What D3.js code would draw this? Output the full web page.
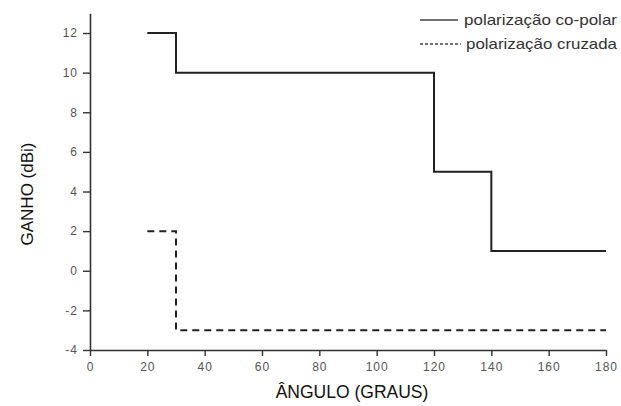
<!DOCTYPE html>
<html>
<head>
<meta charset="utf-8">
<script src="https://cdn.jsdelivr.net/npm/d3@7"></script>
<style>
  body { margin: 0; background: #fff; }
  svg { display: block; font-family: "Liberation Sans", Arial, sans-serif; }
</style>
</head>
<body>
<div id="chart"></div>
<script>
(function () {
  "use strict";

  const WIDTH = 621;
  const HEIGHT = 406;

  /* ---- data ---- */
  const coAngle = [20, 30, 120, 140, 180];
  const coGain = [12, 10, 5, 1, 1];
  const crossAngle = [20, 30, 180];
  const crossGain = [2, -3, -3];
  const xTicks = [0, 20, 40, 60, 80, 100, 120, 140, 160, 180];
  const yTicks = [-4, -2, 0, 2, 4, 6, 8, 10, 12];
  const seriesNames = ["polarização co-polar", "polarização cruzada"];

  const LINE_COLOR = "#222";
  const AXIS_COLOR = "#333";
  const TICK_TEXT = "#555";

  var svg = d3.select("#chart").append("svg")
    .attr("width", WIDTH).attr("height", HEIGHT);

  var x = d3.scaleLinear().domain([0, 180]).range([90, 606]);
  var y = d3.scaleLinear().domain([-4, 13]).range([350, 13.2]);

  // plain hyphen for negatives, like the original
  var fmt = function (d) { return String(d); };

  /* ---- axes ---- */
  var gx = svg.append("g").attr("transform", "translate(0," + y(-4) + ")");
  gx.call(d3.axisBottom(x).tickValues(d3.range(10, 180, 20)).tickSize(3).tickFormat(""));
  gx.call(d3.axisBottom(x).tickValues(xTicks).tickSize(6).tickSizeOuter(0).tickPadding(6).tickFormat(fmt));

  var gy = svg.append("g").attr("transform", "translate(" + x(0) + ",0)");
  gy.call(d3.axisLeft(y).tickValues(d3.range(-3, 13, 2)).tickSize(4).tickFormat(""));
  gy.call(d3.axisLeft(y).tickValues(yTicks).tickSize(7).tickSizeOuter(0).tickPadding(5).tickFormat(fmt));

  svg.selectAll(".domain").attr("stroke", AXIS_COLOR).attr("stroke-width", 1.6);
  svg.selectAll(".tick line").attr("stroke", AXIS_COLOR).attr("stroke-width", 1.4);
  svg.selectAll(".tick text")
    .attr("fill", TICK_TEXT)
    .style("font-size", "12px")
    .style("letter-spacing", "1px");

  /* ---- axis titles ---- */
  svg.append("text")
    .attr("x", 352).attr("y", 398)
    .attr("text-anchor", "middle")
    .attr("fill", "#111")
    .style("font-size", "17.5px")
    .text("ÂNGULO (GRAUS)");

  svg.append("text")
    .attr("transform", "translate(33,194) rotate(-90)")
    .attr("text-anchor", "middle")
    .attr("fill", "#111")
    .style("font-size", "17px")
    .text("GANHO (dBi)");

  /* ---- series ---- */
  var line = d3.line()
    .x(function (d) { return x(d[0]); })
    .y(function (d) { return y(d[1]); })
    .curve(d3.curveStepAfter);

  svg.append("path")
    .datum(d3.zip(coAngle, coGain))
    .attr("d", line)
    .attr("fill", "none")
    .attr("stroke", LINE_COLOR)
    .attr("stroke-width", 2);

  svg.append("path")
    .datum(d3.zip(crossAngle, crossGain))
    .attr("d", line)
    .attr("fill", "none")
    .attr("stroke", LINE_COLOR)
    .attr("stroke-width", 2)
    .attr("stroke-dasharray", "7,5");

  /* ---- legend ---- */
  var legend = svg.append("g");
  var rows = [
    { name: seriesNames[0], dash: null, y: 20, x2: 458, tx: 464 },
    { name: seriesNames[1], dash: "3,2", y: 44, x2: 461, tx: 466 }
  ];
  rows.forEach(function (r) {
    legend.append("line")
      .attr("x1", 420).attr("x2", r.x2)
      .attr("y1", r.y).attr("y2", r.y)
      .attr("stroke", "#444")
      .attr("stroke-width", 1.4)
      .attr("stroke-dasharray", r.dash);
    legend.append("text")
      .attr("x", r.tx).attr("y", r.y + 5)
      .attr("fill", "#333")
      .attr("textLength", 617 - r.tx)
      .attr("lengthAdjust", "spacingAndGlyphs")
      .style("font-size", "15px")
      .text(r.name);
  });
})();
</script>
</body>
</html>
